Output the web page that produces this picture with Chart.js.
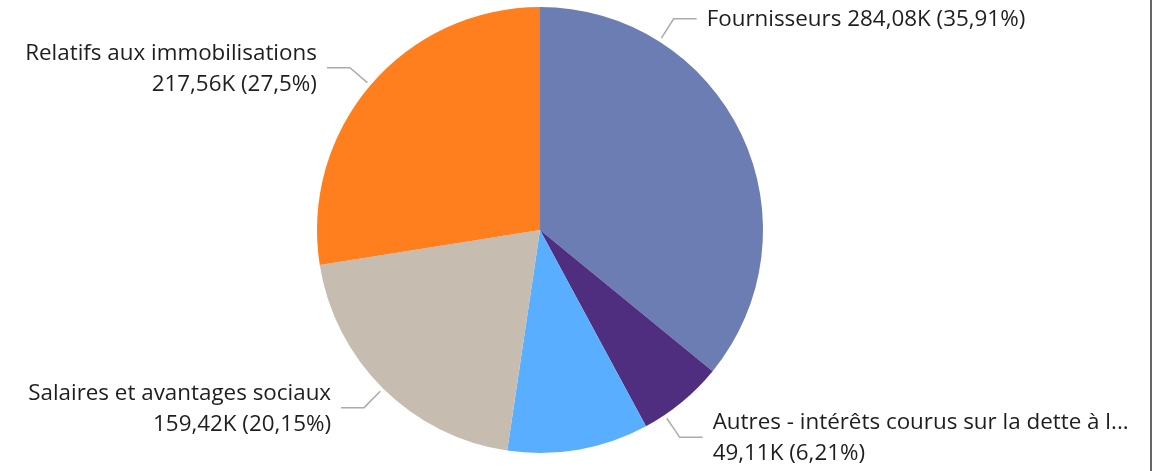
<!DOCTYPE html>
<html><head><meta charset="utf-8">
<script src="https://cdn.jsdelivr.net/npm/chart.js@4"></script>
<style>
html,body{margin:0;padding:0;background:#fff;overflow:hidden}
#wrap{position:relative;width:1165px;height:471px}
#frame{position:absolute;left:1150px;top:0;width:2px;height:471px;background:#666}
</style></head><body>
<div id="wrap"><canvas id="c" width="1165" height="471"></canvas><div id="frame"></div></div>
<script>
const categories = ['Fournisseurs', 'Autres - intérêts courus sur la dette à l...', 'Autres charges', 'Salaires et avantages sociaux', 'Relatifs aux immobilisations'];
const valuesK = [284.08, 49.11, 80.93, 159.42, 217.56];
const valueLabels = ['284,08K', '49,11K', '80,93K', '159,42K', '217,56K'];
const percentLabels = ['35,91%', '6,21%', '10,23%', '20,15%', '27,5%'];
const showLabel = [true, true, false, true, true];
const colors = ['#6B7DB2', '#4F2D7F', '#5AAEFF', '#C6BDB0', '#FF7F1F'];

const leaderPlugin = {
  id: 'leaders',
  afterDatasetsDraw(chart, args, opts) {
    const ctx = chart.ctx;
    const meta = chart.getDatasetMeta(0);
    ctx.save();
    ctx.font = opts.font;
    meta.data.forEach((arc, i) => {
      if (!showLabel[i]) return;
      const p = arc.getProps(['x', 'y', 'startAngle', 'endAngle', 'outerRadius'], true);
      const a = p.startAngle + opts.anchor[i] * (p.endAngle - p.startAngle);
      const r0 = p.outerRadius + opts.gap, r1 = p.outerRadius + opts.elbow;
      const x0 = p.x + Math.cos(a) * r0, y0 = p.y + Math.sin(a) * r0;
      const x1 = p.x + Math.cos(a) * r1, y1 = p.y + Math.sin(a) * r1;
      const right = Math.cos(a) >= 0;
      const x2 = x1 + (right ? opts.arm : -opts.arm);
      ctx.strokeStyle = opts.lineColor;
      ctx.lineWidth = opts.lineWidth;
      ctx.beginPath();
      ctx.moveTo(x0, y0); ctx.lineTo(x1, y1); ctx.lineTo(x2, y1);
      ctx.stroke();
      ctx.fillStyle = opts.color;
      ctx.textAlign = right ? 'left' : 'right';
      ctx.textBaseline = 'middle';
      const tx = x2 + (right ? opts.textGap : -opts.textGap);
      const tail = valueLabels[i] + ' (' + percentLabels[i] + ')';
      if (opts.oneLine[i]) {
        ctx.fillText(categories[i] + ' ' + tail, tx, y1 + opts.dy);
      } else {
        ctx.fillText(categories[i], tx, y1 + opts.dy - opts.lineH / 2);
        ctx.fillText(tail, tx, y1 + opts.dy + opts.lineH / 2);
      }
    });
    ctx.restore();
  }
};

new Chart(document.getElementById('c'), {
  type: 'pie',
  data: {
    labels: categories,
    datasets: [{ data: valuesK, backgroundColor: colors, borderWidth: 0, hoverOffset: 0 }]
  },
  options: {
    responsive: false,
    animation: false,
    events: [],
    layout: { padding: { left: 0, right: 85, top: 7, bottom: 18 } },
    plugins: {
      legend: { display: false },
      tooltip: { enabled: false },
      leaders: {
        anchor: [0.25, 0.75, 0.5, 0.5, 0.5],
        oneLine: [true, false, false, false, false],
        gap: 4, elbow: 27, arm: 23, textGap: 10,
        lineColor: '#ABABAB', lineWidth: 1.5,
        color: '#1E1E1E', font: '22.4px "Open Sans"', lineH: 31, dy: 1
      }
    }
  },
  plugins: [leaderPlugin]
});
</script>
</body></html>
